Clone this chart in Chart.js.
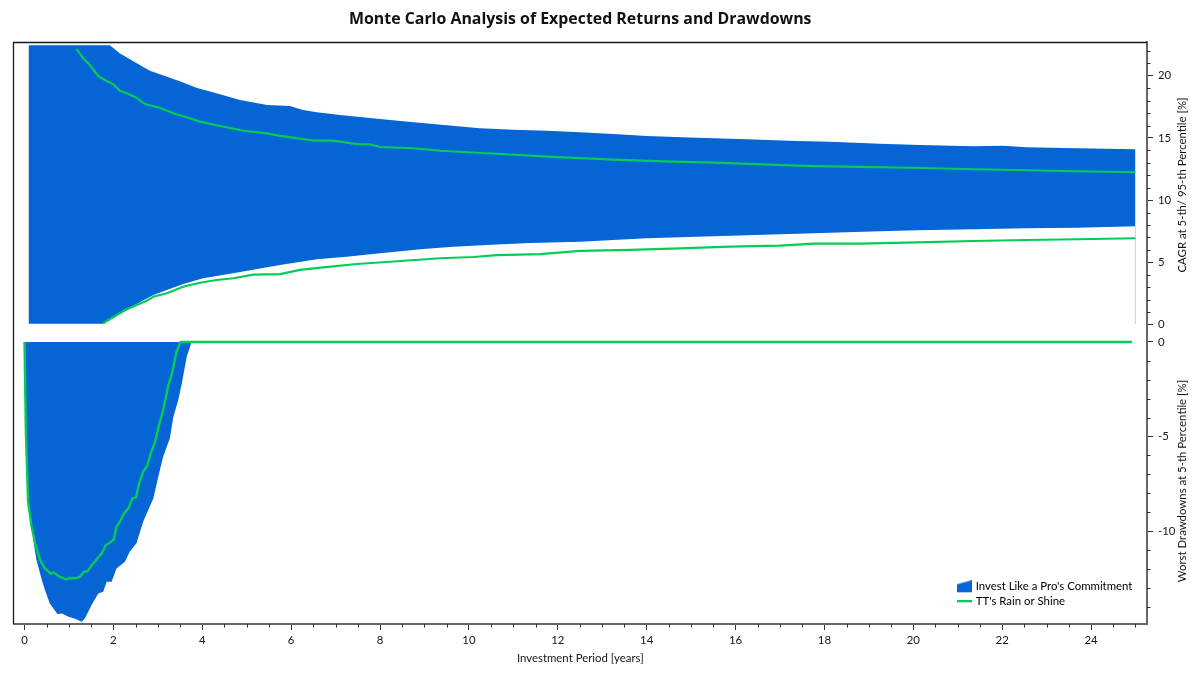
<!DOCTYPE html>
<html><head><meta charset="utf-8">
<style>html,body{margin:0;padding:0;background:#fff}canvas{display:block}</style>
<script src="https://cdn.jsdelivr.net/npm/chart.js@4/dist/chart.umd.js"></script>
</head><body>
<canvas id="c" width="1200" height="675"></canvas>
<script>
const chartTitle = "Monte Carlo Analysis of Expected Returns and Drawdowns";
const xTitle = "Investment Period [years]";
const yTopTitle = "CAGR at 5-th/ 95-th Percentile [%]";
const yBottomTitle = "Worst Drawdowns at 5-th Percentile [%]";
const blueName = "Invest Like a Pro's Commitment";
const greenName = "TT's Rain or Shine";

const xTicks = [0,2,4,6,8,10,12,14,16,18,20,22,24];
const yTopTicks = [0,5,10,15,20];
const yBottomTicks = [0,-5,-10];

const blueHighYears = [0.09,1.92,2.15,2.44,2.82,3.21,3.54,3.88,4.24,4.85,5.46,5.97,6.27,6.58,7.1,8.0,8.52,9.5,10.25,11.0,11.76,12.5,13.25,14.0,15.13,16.26,17.38,18.13,19.25,20.15,21.35,22.02,22.55,23.68,25.0];
const blueHighValues = [22.45,22.45,21.8,21.19,20.41,19.93,19.5,19.02,18.67,18.05,17.65,17.57,17.25,17.06,16.85,16.52,16.34,16.02,15.78,15.66,15.58,15.45,15.32,15.16,15.02,14.89,14.75,14.7,14.54,14.43,14.33,14.38,14.25,14.17,14.09];
const blueLowYears = [0.09,1.77,2.3,2.9,3.57,4.02,4.69,5.46,5.75,6.58,7.25,8.0,8.97,9.65,10.4,11.37,12.5,13.25,14.0,15.13,16.26,17.38,18.5,19.25,20.08,21.35,22.55,23.68,25.0];
const blueLowValues = [0.05,0.05,1.21,2.37,3.25,3.71,4.11,4.59,4.78,5.24,5.45,5.72,6.07,6.25,6.39,6.55,6.65,6.79,6.93,7.06,7.17,7.3,7.41,7.49,7.57,7.65,7.73,7.78,7.89];
const edgeYears = [25.0,25.0];
const edgeValues = [7.89,0.05];

const greenHighYears = [1.17,1.32,1.47,1.66,1.85,2.0,2.15,2.34,2.52,2.71,3.05,3.39,3.65,3.95,4.32,4.92,5.45,5.75,6.5,6.95,7.48,7.77,8.0,8.75,9.35,9.87,10.63,11.76,12.5,13.25,14.37,15.5,16.62,17.75,18.8,19.93,21.4,22.55,23.68,25.0];
const greenHighValues = [22.16,21.41,20.87,19.98,19.58,19.31,18.8,18.54,18.24,17.73,17.43,16.93,16.66,16.31,16.02,15.58,15.37,15.16,14.78,14.78,14.51,14.49,14.27,14.17,13.97,13.87,13.73,13.49,13.38,13.25,13.12,13.01,12.88,12.74,12.67,12.6,12.48,12.4,12.32,12.24];
const greenLowYears = [1.77,2.04,2.3,2.75,2.9,3.2,3.57,3.95,4.32,4.7,5.15,5.75,6.2,6.72,7.48,8.22,9.35,10.1,10.63,11.6,12.5,13.63,14.75,15.88,17.0,17.75,18.8,20.08,21.35,22.55,23.68,25.0];
const greenLowValues = [0.09,0.68,1.21,1.91,2.23,2.5,3.03,3.35,3.57,3.71,4.0,4.05,4.38,4.59,4.86,5.04,5.32,5.42,5.58,5.66,5.91,5.99,6.12,6.25,6.33,6.49,6.5,6.6,6.71,6.79,6.85,6.93];

const blueDrawYears = [0,0.01,0.05,0.08,0.14,0.22,0.27,0.39,0.46,0.57,0.74,0.84,0.99,1.14,1.29,1.36,1.51,1.66,1.77,1.85,1.96,2.07,2.26,2.37,2.52,2.67,2.9,3.01,3.12,3.27,3.35,3.46,3.54,3.65,3.76];
const blueDrawValues = [0,-2.89,-6.42,-8.45,-9.42,-10.83,-11.53,-12.59,-13.12,-13.83,-14.39,-14.36,-14.53,-14.64,-14.8,-14.62,-13.92,-13.3,-13.21,-12.68,-12.68,-11.98,-11.62,-11.09,-10.65,-9.51,-8.27,-7.13,-6.07,-5.1,-3.95,-3.07,-2.19,-0.78,0];
const greenDrawYears = [0,0.03,0.08,0.16,0.24,0.35,0.46,0.59,0.66,0.76,0.93,1.02,1.16,1.25,1.34,1.41,1.55,1.74,1.83,1.92,2.01,2.07,2.15,2.25,2.34,2.43,2.51,2.58,2.67,2.76,2.84,2.93,3.01,3.12,3.24,3.33,3.41,3.51,24.92];
const greenDrawValues = [0,-4.66,-8.45,-9.77,-10.65,-11.53,-11.98,-12.26,-12.2,-12.38,-12.56,-12.49,-12.5,-12.42,-12.15,-12.13,-11.71,-11.18,-10.74,-10.62,-10.44,-9.77,-9.51,-9.03,-8.8,-8.27,-8.22,-7.48,-6.86,-6.56,-5.89,-5.36,-4.57,-3.6,-2.28,-1.57,-0.6,0,0];

const BLUE = "#0565d5", GREEN = "#05cc58", FONT = "Lato", TITLE_FONT = "'Open Sans'", INK = "#151515", SMALL = 11.4;
const pts = (xs, ys) => xs.map((x, i) => ({x, y: ys[i]}));
const fixedTicks = (list) => (s) => { s.ticks = list.map(value => ({value})); };

function blueIcon(){
  const c = document.createElement("canvas"); c.width = 17; c.height = 13;
  const g = c.getContext("2d"); g.fillStyle = BLUE;
  g.beginPath(); g.moveTo(2,4); g.lineTo(9,2); g.lineTo(17,0); g.lineTo(17,12); g.lineTo(2,12); g.closePath(); g.fill();
  return c;
}
function greenIcon(){
  const c = document.createElement("canvas"); c.width = 17; c.height = 3;
  const g = c.getContext("2d"); g.fillStyle = GREEN; g.fillRect(2,0,15,2);
  return c;
}

const frame = {
  id: "frame",
  afterLayout(chart){
    const l = chart.legend;
    l.left = 953.4; l.right = 1147; l.top = 577.5; l.bottom = 612;
    const place = {yTop:185, yBottom:481};
    for (const id in place){
      const s = chart.scales[id];
      s.drawTitle = function(){
        const c = this.ctx, t = this.options.title;
        c.save(); c.translate(1182, place[id]); c.rotate(-Math.PI/2);
        c.font = SMALL + "px " + FONT; c.fillStyle = t.color; c.textAlign = "center"; c.textBaseline = "middle";
        c.fillText(t.text, 0, 0); c.restore();
      };
    }
  },
  afterDraw(chart){
    const c = chart.ctx, a = chart.chartArea, x = chart.scales.x, T = chart.scales.yTop, B = chart.scales.yBottom;
    c.save();
    c.strokeStyle = "#1a1a1a"; c.lineWidth = 1.3;
    c.beginPath(); c.moveTo(a.left, a.bottom); c.lineTo(a.left, a.top); c.lineTo(a.right, a.top); c.stroke();
    c.strokeStyle = "#333"; c.lineWidth = 1; c.beginPath();
    for (let v = 0.5; v <= 25; v += 0.5){
      if (v % 2 === 0) continue;
      const p = Math.round(x.getPixelForValue(v)) + 0.5;
      c.moveTo(p, a.bottom); c.lineTo(p, a.bottom + 3.5);
    }
    for (let v = 0; v <= 22; v++){
      if (v % 5 === 0) continue;
      const p = Math.round(T.getPixelForValue(v)) + 0.5;
      c.moveTo(a.right, p); c.lineTo(a.right + 3.5, p);
    }
    for (let v = 0; v >= -14; v--){
      if (v % 5 === 0) continue;
      const p = Math.round(B.getPixelForValue(v)) + 0.5;
      c.moveTo(a.right, p); c.lineTo(a.right + 3.5, p);
    }
    c.stroke(); c.restore();
  }
};

const line = (data, color, width, yAxisID, fill) => ({
  data, borderColor: color, borderWidth: width, backgroundColor: BLUE,
  pointRadius: 0, tension: 0, yAxisID, fill: fill === undefined ? false : fill
});

const rightAxis = (min, max, ticks, title) => ({
  type: "linear", position: "right", stack: "right", stackWeight: 1, min, max,
  afterBuildTicks: fixedTicks(ticks),
  afterFit(s){ s.width = 53; },
  grid: {display: true, drawOnChartArea: false, drawTicks: true, tickLength: 6, tickColor: "#333", tickWidth: 1},
  border: {display: true, color: "#666", width: 2},
  ticks: {padding: 5, autoSkip: false, maxRotation: 0, color: INK, font: {family: FONT, size: SMALL}, callback: v => String(v)},
  title: {display: true, text: title, color: INK, font: {family: FONT, size: SMALL}}
});

new Chart(document.getElementById("c"), {
  type: "line",
  data: {datasets: [
    line(pts(greenHighYears, greenHighValues), GREEN, 2.2, "yTop"),
    line(pts(greenLowYears, greenLowValues), GREEN, 2.2, "yTop"),
    line(pts(greenDrawYears, greenDrawValues), GREEN, 2.4, "yBottom"),
    line(pts(blueHighYears, blueHighValues), BLUE, 0, "yTop", 4),
    line(pts(blueLowYears, blueLowValues), BLUE, 0, "yTop"),
    line(pts(blueDrawYears, blueDrawValues), BLUE, 0, "yBottom", {value: 0}),
    line(pts(edgeYears, edgeValues), "#c9dde6", 1, "yTop")
  ]},
  options: {
    responsive: false, animation: false, devicePixelRatio: 1,
    layout: {padding: {left: 13.5, right: 0, top: 0, bottom: 0}},
    scales: {
      x: {
        type: "linear", position: "bottom", min: -0.2475, max: 25.26,
        afterBuildTicks: fixedTicks(xTicks),
        afterFit(s){ s.height = 51; },
        grid: {display: true, drawOnChartArea: false, drawTicks: true, tickLength: 6, tickColor: "#333", tickWidth: 1},
        border: {display: true, color: "#666", width: 2},
        ticks: {padding: 3, autoSkip: false, maxRotation: 0, color: INK, font: {family: FONT, size: SMALL}, callback: v => String(v)},
        title: {display: true, text: xTitle, color: INK, padding: {top: 1, bottom: 9.5}, font: {family: FONT, size: SMALL}}
      },
      yTop: rightAxis(-0.712, 22.68, yTopTicks, yTopTitle),
      yBottom: rightAxis(-14.92, 0.463, yBottomTicks, yBottomTitle)
    },
    plugins: {
      title: {display: true, text: chartTitle, color: "#111", fullSize: false, align: "center",
        font: {family: TITLE_FONT, size: 15.9, weight: "bold"}, padding: {top: 10, bottom: 13.4}},
      tooltip: {enabled: false},
      legend: {
        display: true, position: "chartArea", align: "start",
        labels: {
          usePointStyle: true, pointStyleWidth: 13, padding: 3.6, color: INK,
          font: {family: FONT, size: SMALL},
          generateLabels: () => [
            {text: blueName, fillStyle: BLUE, strokeStyle: BLUE, lineWidth: 0, pointStyle: blueIcon(), datasetIndex: 3, hidden: false},
            {text: greenName, fillStyle: GREEN, strokeStyle: GREEN, lineWidth: 0, pointStyle: greenIcon(), datasetIndex: 0, hidden: false}
          ]
        }
      }
    }
  },
  plugins: [frame]
});
</script>
</body></html>
